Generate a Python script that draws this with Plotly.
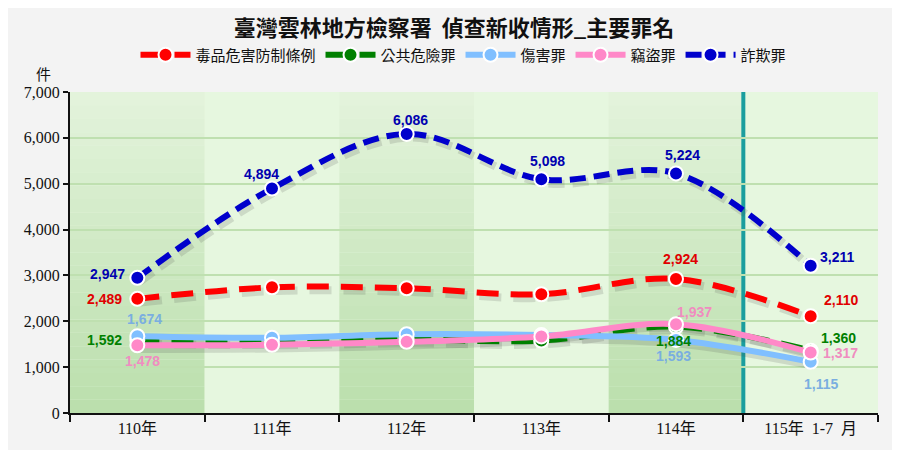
import plotly.graph_objects as go

years = ["110年", "111年", "112年", "113年", "114年", "115年  1-7  月"]

drug = [2489, 2740, 2720, 2590, 2924, 2110]
public_danger = [1592, 1560, 1600, 1580, 1884, 1360]
injury = [1674, 1640, 1720, 1700, 1593, 1115]
theft = [1478, 1488, 1553, 1670, 1937, 1317]
fraud = [2947, 4894, 6086, 5098, 5224, 3211]

# value labels: point index -> (xshift, yshift) in pixels from the marker
drug_lbl = {0: (-33, 0), 4: (4, 20), 5: (30, 16)}
public_lbl = {0: (-33, 0), 4: (-3, -14), 5: (28, 13)}
injury_lbl = {0: (7, 17), 4: (-3, -16), 5: (10, -22)}
theft_lbl = {0: (5, -16), 4: (18, 12), 5: (30, 0)}
fraud_lbl = {0: (-30, 4), 1: (-11, 15), 2: (4, 14), 3: (6, 18), 4: (6, 18), 5: (26, 9)}

series = [
    ("毒品危害防制條例", drug, drug_lbl, "#ff0000", "#e00000", "22px,12px"),
    ("公共危險罪", public_danger, public_lbl, "#008000", "#008000", "22px,12px"),
    ("傷害罪", injury, injury_lbl, "#80bfff", "#7aaee0", "solid"),
    ("竊盜罪", theft, theft_lbl, "#ff88c8", "#f08cc0", "solid"),
    ("詐欺罪", fraud, fraud_lbl, "#0000cc", "#0000b0", "16px,8px"),
]

fig = go.Figure()

# soft drop shadows, drawn on a slightly offset hidden axis pair
for name, vals, lbl, color, tcolor, dash in series:
    fig.add_trace(go.Scatter(
        x=years, y=vals, mode="lines", xaxis="x2", yaxis="y2", showlegend=False,
        hoverinfo="skip", line=dict(color="rgba(70,70,70,0.16)", width=8, dash=dash,
                                    shape="spline", smoothing=1),
    ))

for name, vals, lbl, color, tcolor, dash in series:
    fig.add_trace(go.Scatter(
        x=years, y=vals, name=name, mode="lines+markers", xaxis="x3", yaxis="y3",
        line=dict(color=color, width=6, dash=dash, shape="spline", smoothing=1),
        marker=dict(size=14, color=color, line=dict(color="white", width=2)),
        cliponaxis=False,
    ))
    for i, (dx, dy) in lbl.items():
        fig.add_annotation(x=years[i], y=vals[i], xref="x3", yref="y3", text=f"{vals[i]:,}",
                           showarrow=False, xshift=dx, yshift=dy,
                           font=dict(family="Liberation Sans, Arial", size=14, color=tcolor,
                                     weight="bold"))

# background bands: the darker ones fade from pale (top) to green (bottom)
shapes = []
n_strips = 24
top_c = (228, 244, 220)
bot_c = (187, 223, 172)
for i in range(6):
    if i % 2 == 0:
        for k in range(n_strips):
            t = (k + 0.5) / n_strips
            c = tuple(int(top_c[j] + (bot_c[j] - top_c[j]) * t) for j in range(3))
            shapes.append(dict(type="rect", xref="x", yref="y", layer="below",
                               x0=i - 0.5, x1=i + 0.5,
                               y0=7000 * (1 - (k + 1) / n_strips), y1=7000 * (1 - k / n_strips),
                               fillcolor="rgb(%d,%d,%d)" % c, line_width=0))
    else:
        shapes.append(dict(type="rect", xref="x", yref="y", layer="below",
                           x0=i - 0.5, x1=i + 0.5, y0=0, y1=7000,
                           fillcolor="#e6f7df", line_width=0))
shapes.append(dict(type="line", xref="x", yref="y", x0=4.5, x1=4.5, y0=0, y1=7000,
                   layer="below", line=dict(color="#1a9e9e", width=4)))

serif = "Liberation Serif, Times New Roman, serif"

fig.update_layout(
    width=892, height=442,
    paper_bgcolor="#f3f3f3", plot_bgcolor="#e6f7df",
    margin=dict(l=62, r=22, t=84, b=37),
    title=dict(text="<b>臺灣雲林地方檢察署  偵查新收情形_主要罪名</b>", x=0.5, y=0.953,
               xanchor="center", yanchor="middle",
               font=dict(family="Noto Sans CJK TC", size=22, color="#111")),
    legend=dict(orientation="h", x=0.487, xanchor="center", y=1.115, yanchor="middle",
                font=dict(family="Noto Sans CJK TC", size=15, color="#111"),
                bgcolor="rgba(0,0,0,0)", itemwidth=50, tracegroupgap=0),
    shapes=shapes,
    showlegend=True,
    xaxis=dict(type="category", categoryarray=years, range=[-0.5, 5.5], tickson="boundaries",
               ticks="outside", ticklen=7, tickwidth=2, tickcolor="#111", showline=True,
               linecolor="#111", linewidth=2, showgrid=False,
               tickfont=dict(family=serif + ", Noto Sans CJK TC", size=16, color="#111")),
    yaxis=dict(range=[0, 7000], dtick=1000, tickformat=",", ticks="outside", ticklen=5,
               tickwidth=2, tickcolor="#111", showline=True, linecolor="#111", linewidth=2,
               gridcolor="#bfe0b0", gridwidth=2, zeroline=False,
               tickfont=dict(family=serif, size=16, color="#111")),
    # shadow axes: shifted a few pixels right and down
    xaxis2=dict(type="category", categoryarray=years, range=[-0.52, 5.48], overlaying="x",
                visible=False),
    yaxis2=dict(range=[80, 7080], overlaying="y", visible=False),
    xaxis3=dict(type="category", categoryarray=years, range=[-0.5, 5.5], overlaying="x",
                visible=False),
    yaxis3=dict(range=[0, 7000], overlaying="y", visible=False),
)

fig.add_annotation(text="件", xref="paper", yref="paper", x=-0.033, y=1.059,
                   xanchor="center", yanchor="middle", showarrow=False,
                   font=dict(family="Noto Sans CJK TC", size=15, color="#111"))

fig.write_html("out.html")
